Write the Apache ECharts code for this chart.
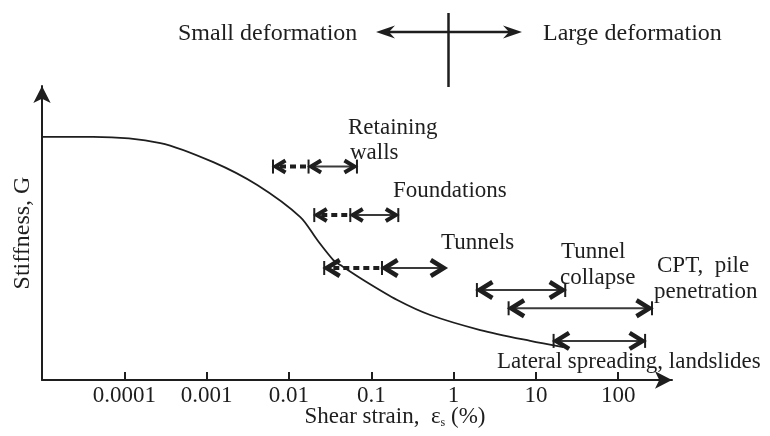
<!DOCTYPE html>
<html><head><meta charset="utf-8">
<script src="https://cdn.jsdelivr.net/npm/echarts@6/dist/echarts.min.js"></script>
<style>html,body{margin:0;padding:0;background:#fff}#c{width:770px;height:436px}</style>
</head><body><div id="c"></div>
<script>
// Stiffness–strain curve
const strain    = [0.00001, 0.000042, 0.000274, 0.001205, 0.00412, 0.01375, 0.0221, 0.0346, 0.0421, 0.080, 0.207, 0.521, 2.11, 8.53, 21.5];
const stiffness = [82.7, 82.7, 80.6, 74.1, 66.3, 55.4, 47.6, 40.8, 39.1, 34.0, 27.2, 22.1, 17.0, 13.3, 11.2];

// Strain ranges of applications
const appNames  = ['Retaining walls', 'Foundations', 'Tunnels', 'Tunnel collapse', 'CPT, pile penetration', 'Lateral spreading, landslides'];
const appLevel  = [72.6, 56.1, 38.1, 30.6, 24.4, 13.3];
const dashFrom  = [0.0064, 0.0203, 0.0268, null, null, null];
const solidFrom = [0.0173, 0.0556, 0.135, 1.92, 4.66, 16.4];
const solidTo   = [0.067, 0.213, 0.815, 22.7, 257, 212];

// Axis ticks
const tickValues = [0.0001, 0.001, 0.01, 0.1, 1, 10, 100];
const tickLabels = ['0.0001', '0.001', '0.01', '0.1', '1', '10', '100'];

const FONT = '"Liberation Serif", "Times New Roman", serif';
const INK = '#1e1e1e';

const rangeData = appNames.map((n, i) => ({
  name: n,
  value: [dashFrom[i] != null ? dashFrom[i] : solidFrom[i], solidFrom[i], solidTo[i], appLevel[i]]
}));

function renderRange(params, api) {
  const i = params.dataIndex;
  const s = api.coord([api.value(0), api.value(3)]);
  const m = api.coord([api.value(1), api.value(3)]);
  const e = api.coord([api.value(2), api.value(3)]);
  const y = s[1];
  const small = i < 2;
  const L = small ? 10 : 13, H = small ? 6 : 8;
  const kids = [];
  const chev = (x, dir) => ({
    type: 'polyline',
    shape: { points: [[x - dir * L, y - H], [x, y], [x - dir * L, y + H]] },
    style: { stroke: INK, lineWidth: small ? 4 : 4.5, fill: null, lineJoin: 'miter' }
  });
  const bar = (x) => ({
    type: 'line', shape: { x1: x, y1: y - 7, x2: x, y2: y + 7 },
    style: { stroke: INK, lineWidth: 2 }
  });
  if (m[0] - s[0] > 1) {
    kids.push({ type: 'line', shape: { x1: s[0] + L * 0.7, y1: y, x2: m[0], y2: y },
      style: { stroke: INK, lineWidth: 4, lineDash: [6, 4] } });
    kids.push(chev(s[0] + 2.5, -1));
    kids.push(bar(s[0]));
  }
  kids.push({ type: 'line', shape: { x1: m[0] + 2, y1: y, x2: e[0] - 2, y2: y },
    style: { stroke: '#3a3a3a', lineWidth: 2 } });
  kids.push(chev(m[0] + 2.5, -1));
  kids.push(chev(e[0] - 2.5, 1));
  kids.push(bar(m[0]));
  if (i !== 2) kids.push(bar(e[0]));
  return { type: 'group', children: kids };
}

function txt(str, x, y, size) {
  return { type: 'text', x: x, y: y, silent: true,
    style: { text: str, fill: INK, font: (size || 23) + 'px ' + FONT, textAlign: 'left', textVerticalAlign: 'middle' } };
}

const chart = echarts.init(document.getElementById('c'), null, { renderer: 'canvas' });
chart.setOption({
  backgroundColor: '#fff',
  animation: false,
  grid: { left: 42, right: 98, top: 86, bottom: 56, containLabel: false },
  xAxis: {
    type: 'log', logBase: 10, min: 0.00001, max: 450,
    axisLine: { show: true, lineStyle: { color: INK, width: 2 }, symbol: ['none', 'arrow'], symbolSize: [13, 17] },
    axisTick: { show: true, inside: true, length: 8, lineStyle: { color: INK, width: 2 }, customValues: tickValues },
    axisLabel: { show: true, margin: 4, color: INK, fontFamily: FONT, fontSize: 23, customValues: tickValues,
      formatter: v => { const k = tickValues.findIndex(t => Math.abs(Math.log10(t) - Math.log10(v)) < 1e-6); return k >= 0 ? tickLabels[k] : ''; } },
    splitLine: { show: false }, minorTick: { show: false }
  },
  yAxis: {
    type: 'value', min: 0, max: 100,
    name: 'Stiffness, G', nameLocation: 'middle', nameRotate: 90, nameGap: 7,
    nameTextStyle: { color: INK, fontFamily: FONT, fontSize: 24 },
    axisLine: { show: true, lineStyle: { color: INK, width: 2 }, symbol: ['none', 'arrow'], symbolSize: [13, 17] },
    axisTick: { show: false }, axisLabel: { show: false }, splitLine: { show: false }
  },
  series: [
    { type: 'line', name: 'Stiffness', data: strain.map((x, i) => [x, stiffness[i]]),
      smooth: 0.3, showSymbol: false, lineStyle: { color: INK, width: 1.8 }, z: 3 },
    { type: 'custom', name: 'Applications', renderItem: renderRange, data: rangeData,
      encode: { x: [0, 1, 2], y: 3 }, z: 4 }
  ],
  graphic: [
    { type: 'line', shape: { x1: 386, y1: 32, x2: 512, y2: 32 }, style: { stroke: INK, lineWidth: 2.5 } },
    { type: 'polygon', shape: { points: [[376, 32], [395, 25.5], [389, 32], [395, 38.5]] }, style: { fill: INK } },
    { type: 'polygon', shape: { points: [[522, 32], [503, 25.5], [509, 32], [503, 38.5]] }, style: { fill: INK } },
    { type: 'line', shape: { x1: 448.5, y1: 13, x2: 448.5, y2: 87 }, style: { stroke: INK, lineWidth: 2.5 } },
    txt('Small deformation', 178, 34, 24),
    txt('Large deformation', 543, 34, 24),
    txt('Retaining', 348, 128),
    txt('walls', 350, 153),
    txt('Foundations', 393, 191),
    txt('Tunnels', 441, 243),
    txt('Tunnel', 561, 252),
    txt('collapse', 560, 278),
    txt('CPT,  pile', 657, 266),
    txt('penetration', 654, 292),
    txt('Lateral spreading, landslides', 497, 362),
    { type: 'text', x: 395, y: 417, silent: true,
      style: { text: 'Shear strain,  ε{s|s} (%)', fill: INK, font: '23px ' + FONT, textAlign: 'center', textVerticalAlign: 'middle',
        rich: { s: { fontSize: 12, fontFamily: FONT, fill: INK, verticalAlign: 'bottom', padding: [10, 0, 0, 0] } } } }
  ]
});
</script></body></html>
